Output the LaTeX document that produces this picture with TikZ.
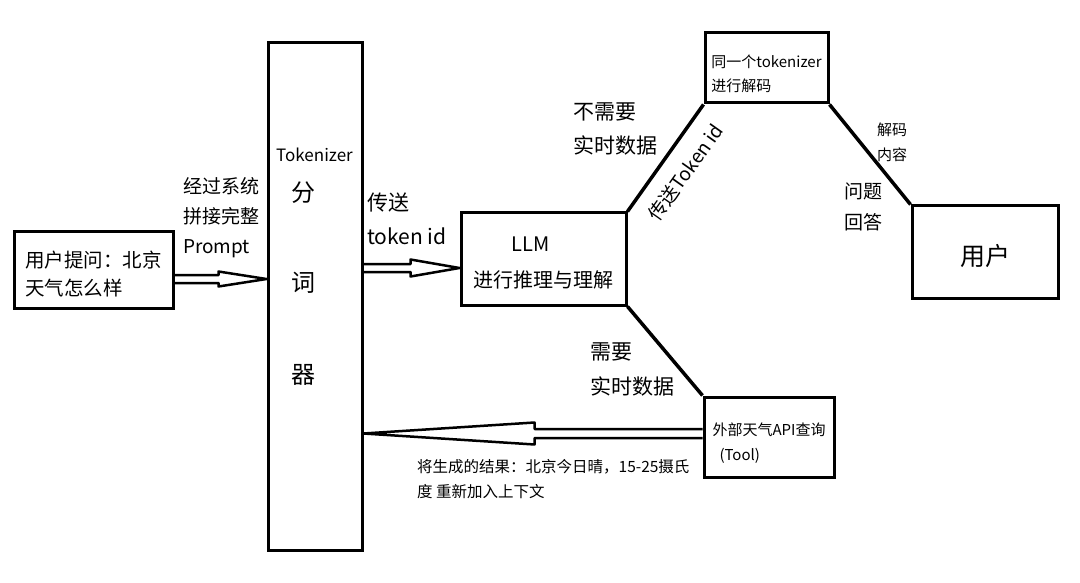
\documentclass[tikz,border=0pt]{standalone}
\usepackage{fontspec}
\setmainfont{Noto Sans CJK SC}
\usetikzlibrary{positioning, calc}

% hollow block arrow: start, tip, head length, shaft half width, head half width
\newcommand{\fatarrow}[5]{%
  \path ($(#2)!#3!(#1)$) coordinate (fa-h);
  \draw[hollow] ($(#1)!#4!90:(#2)$) -- ($(fa-h)!#4!-90:(#1)$) -- ($(fa-h)!#5!-90:(#1)$) -- (#2)
    -- ($(fa-h)!#5!90:(#1)$) -- ($(fa-h)!#4!90:(#1)$) -- ($(#1)!#4!-90:(#2)$);
}

\begin{document}
\begin{tikzpicture}[x=1pt, y=-1pt,
        box/.style={draw, line width=3pt, inner sep=0pt, align=center},
        link/.style={line width=3.5pt},
        hollow/.style={line width=2.5pt, line join=round},
        lbl/.style={inner sep=0pt, align=left, anchor=west}
    ]
        \useasboundingbox (0,0) rectangle (1080,583);

        \node[box, minimum width=159pt, minimum height=76pt, align=left,
              font=\fontsize{19.5}{28}\selectfont] (query) at (93.5,270) {\rule{0pt}{25pt}用户提问：北京\\天气怎么样};
        \node[box, minimum width=94pt, minimum height=507pt] (tok) at (315,296.5) {};
        \node[font=\fontsize{17}{20}\selectfont] (tokname) at (314.5,155) {Tokenizer};
        \node[font=\fontsize{24}{28}\selectfont] (fen) at (303,193) {分};
        \node[font=\fontsize{24}{28}\selectfont] (ci)  at (303,283) {词};
        \node[font=\fontsize{24}{28}\selectfont] (qi)  at (303,375) {器};
        \node[box, minimum width=165pt, minimum height=92pt,
              font=\fontsize{20}{36}\selectfont] (llm) at (543.5,259) {\rule{0pt}{23pt}LLM\hspace*{26pt}\\进行推理与理解};
        \node[box, minimum width=123pt, minimum height=70pt, align=left,
              font=\fontsize{15}{24}\selectfont] (dec) at (766.5,68) {\rule{0pt}{25pt}同一个tokenizer\\进行解码};
        \node[box, minimum width=146pt, minimum height=92pt,
              font=\fontsize{25}{30}\selectfont] (user) at (985,252) {\rule{0pt}{30pt}用户};
        \node[box, minimum width=130pt, minimum height=80pt, align=left,
              font=\fontsize{15}{25}\selectfont] (tool) at (769,437) {\rule{0pt}{25pt}外部天气API查询\\\hspace*{7pt}(Tool)};

        \node[lbl, font=\fontsize{19}{30}\selectfont] (concat) at (183,218) {经过系统\\拼接完整\\Prompt};
        \node[lbl, font=\fontsize{21}{34}\selectfont] (send) at (367,219) {传送\\token id};
        \node[lbl, font=\fontsize{21}{34}\selectfont] (norealtime) at (573,129) {不需要\\实时数据};
        \node[lbl, font=\fontsize{21}{35}\selectfont] (realtime) at (590,369.5) {需要\\实时数据};
        \node[lbl, font=\fontsize{15}{25}\selectfont] (decoded) at (877,142.5) {解码\\内容};
        \node[lbl, font=\fontsize{19}{31}\selectfont] (answer) at (844,206.5) {问题\\回答};
        \node[lbl, font=\fontsize{15.5}{25}\selectfont] (result) at (417,479.5)
            {将生成的结果：北京今日晴，15-25摄氏\\度 重新加入上下文};

        \draw[link] (llm.north east) -- node[sloped, pos=0.5, below=11pt,
            font=\fontsize{19}{22}\selectfont] (sendid) {传送Token id} (dec.south west);
        \draw[link] (dec.south east) -- (user.north west);
        \draw[link] (llm.south east) -- (tool.north west);

        \coordinate (qout) at ($(query.east)+(0,9)$);
        \coordinate (qin) at (qout -| tok.west);
        \fatarrow{qout}{qin}{48pt}{4pt}{7.5pt}

        \coordinate (lin) at ($(llm.west)+(0,9)$);
        \coordinate (tout) at (lin -| tok.east);
        \fatarrow{tout}{lin}{49pt}{4pt}{8.5pt}

        \coordinate (toolout) at ($(tool.west)+(0,-3.5)$);
        \coordinate (toolin) at (toolout -| tok.east);
        \fatarrow{toolout}{toolin}{171pt}{4.5pt}{11pt}
    \end{tikzpicture}
\end{document}
